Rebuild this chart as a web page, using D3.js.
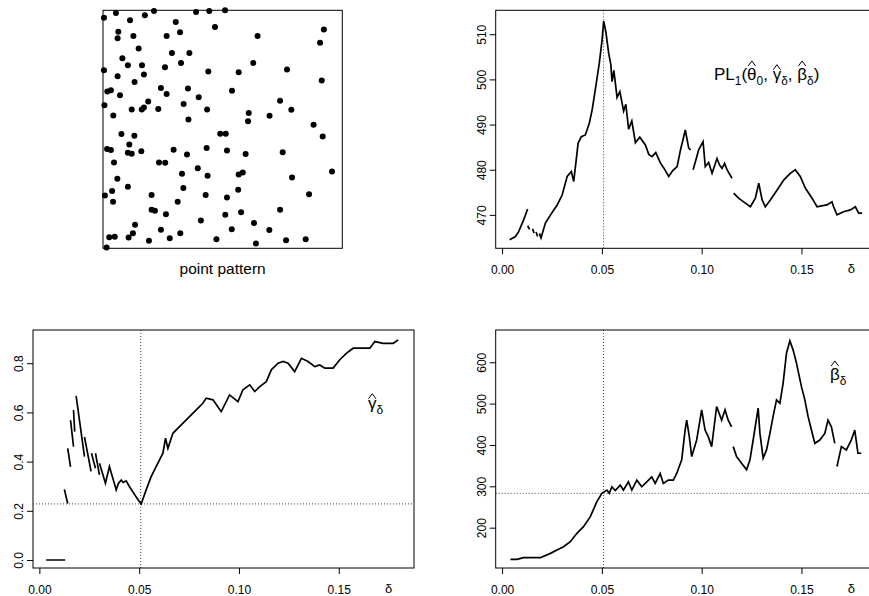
<!DOCTYPE html>
<html>
<head>
<meta charset="utf-8">
<title>profile pseudo-likelihood in delta</title>
<script src="https://cdn.jsdelivr.net/npm/d3@7"></script>
<style>
body { margin: 0; background: #fff; }
text { font-family: "Liberation Sans", Arial, Helvetica, sans-serif; fill: #000; }
</style>
</head>
<body>
<script>
// point pattern, unit square
var ppX = [0.004,0.054,0.175,0.213,0.389,0.444,0.510,0.113,0.304,0.468,0.064,0.061,0.127,0.266,0.322,0.646,0.923,0.907,0.149,0.288,0.361,0.081,0.104,0.163,0.326,0.259,0.628,0.004,0.171,0.061,0.440,0.567,0.769,0.914,0.132,0.018,0.033,0.242,0.355,0.266,0.071,0.539,0.400,0.189,0.740,0.006,0.337,0.120,0.162,0.171,0.231,0.435,0.787,0.043,0.609,0.696,0.357,0.606,0.880,0.077,0.131,0.490,0.513,0.918,0.017,0.033,0.110,0.104,0.120,0.160,0.295,0.351,0.433,0.518,0.596,0.751,0.046,0.234,0.260,0.396,0.330,0.437,0.567,0.584,0.957,0.060,0.790,0.104,0.336,0.565,0.008,0.038,0.042,0.203,0.429,0.518,0.861,0.312,0.203,0.217,0.263,0.511,0.577,0.740,0.409,0.134,0.631,0.125,0.242,0.323,0.538,0.695,0.026,0.049,0.107,0.192,0.279,0.474,0.639,0.765,0.847,0.015];
var ppY = [0.969,0.989,0.979,0.997,0.993,0.997,1.000,0.958,0.951,0.930,0.910,0.883,0.892,0.892,0.908,0.892,0.919,0.864,0.839,0.821,0.821,0.799,0.769,0.769,0.779,0.761,0.779,0.748,0.730,0.723,0.743,0.740,0.751,0.705,0.699,0.659,0.664,0.674,0.671,0.648,0.643,0.662,0.635,0.617,0.620,0.601,0.606,0.583,0.583,0.592,0.585,0.583,0.582,0.558,0.568,0.557,0.541,0.534,0.519,0.480,0.473,0.481,0.481,0.470,0.417,0.413,0.436,0.401,0.397,0.408,0.414,0.394,0.421,0.411,0.396,0.404,0.361,0.361,0.359,0.336,0.313,0.305,0.310,0.319,0.323,0.292,0.297,0.259,0.253,0.246,0.222,0.241,0.196,0.224,0.224,0.213,0.227,0.196,0.162,0.158,0.143,0.141,0.151,0.162,0.117,0.099,0.106,0.063,0.078,0.063,0.080,0.077,0.046,0.049,0.045,0.032,0.042,0.038,0.020,0.034,0.038,0.003];

// [delta, value]; null = gap in the curve
var plCurve = [
  [0.0038,464.5],[0.0067,465.2],[0.0083,466.3],[0.0108,468.9],[0.0128,471.3], null,
  [0.0128,467.6],[0.0138,466.8], null,
  [0.0153,466.9],[0.0160,466.0], null,
  [0.0170,466.2],[0.0178,465.2], null,
  [0.0187,465.9],[0.0195,464.9],[0.0217,468.2],[0.0233,469.3],[0.0259,471.1],[0.0276,472.2],
  [0.0301,474.4],[0.0326,478.5],[0.0347,479.6],[0.0359,477.4],[0.0381,485.9],[0.0397,487.3],
  [0.0417,487.7],[0.0437,490.3],[0.0451,493.2],[0.0467,497.7],[0.0487,503.6],[0.0501,508.7],
  [0.0509,512.9],[0.0520,510.5],[0.0534,505.8],[0.0545,503.2],[0.0551,499.5],[0.0560,502.0],
  [0.0576,496.0],[0.0590,497.3],[0.0609,493.0],[0.0620,494.5],[0.0634,489.0],[0.0650,490.8],
  [0.0668,486.0],[0.0690,487.2],[0.0718,485.5],[0.0735,483.4],[0.0751,482.9],[0.0770,483.8],
  [0.0793,481.5],[0.0810,480.4],[0.0835,478.5],[0.0855,479.8],[0.0877,480.7],[0.0895,484.6],
  [0.0910,487.3],[0.0918,488.8],[0.0935,484.8],[0.0945,484.4], null,
  [0.0957,480.0],[0.0970,482.0],[0.0985,484.4],[0.1007,486.2],[0.1018,480.7],[0.1035,481.6],
  [0.1052,479.2],[0.1077,482.5],[0.1090,481.0],[0.1102,480.3],[0.1115,481.4],[0.1127,480.0],
  [0.1152,478.1], null,
  [0.1160,474.8],[0.1185,473.7],[0.1200,473.2],[0.1219,472.6],[0.1244,471.8],[0.1269,473.7],
  [0.1286,477.0],[0.1303,473.3],[0.1319,471.8],[0.1344,473.3],[0.1378,475.5],[0.1411,477.7],
  [0.1444,479.2],[0.1469,480.0],[0.1494,478.5],[0.1520,475.9],[0.1553,473.7],[0.1578,471.8],
  [0.1600,472.0],[0.1628,472.2],[0.1653,472.9],[0.1661,471.8],[0.1678,470.0],[0.1711,470.7],
  [0.1745,471.1],[0.1770,471.8],[0.1787,470.4],[0.1804,470.4]
];

var gammaCurve = [
  [0.0034,0.000],[0.0129,0.000], null,
  [0.0125,0.287],[0.0142,0.230], null,
  [0.0142,0.454],[0.0156,0.379], null,
  [0.0156,0.569],[0.0171,0.461], null,
  [0.0171,0.610],[0.0177,0.522], null,
  [0.0184,0.667],[0.0226,0.420], null,
  [0.0226,0.500],[0.0259,0.360], null,
  [0.0261,0.434],[0.0281,0.373], null,
  [0.0281,0.434],[0.0301,0.346], null,
  [0.0301,0.393],[0.0331,0.312],[0.0351,0.380],[0.0385,0.285],[0.0395,0.310],[0.0410,0.325],
  [0.0420,0.315],[0.0435,0.322],[0.0450,0.300],[0.0470,0.275],[0.0490,0.250],[0.0510,0.228],
  [0.0535,0.285],[0.0560,0.339],[0.0585,0.380],[0.0619,0.434],[0.0632,0.495],[0.0644,0.454],
  [0.0669,0.515],[0.0702,0.542],[0.0736,0.570],[0.0761,0.590],[0.0786,0.610],[0.0819,0.637],
  [0.0836,0.658],[0.0870,0.651],[0.0911,0.603],[0.0953,0.671],[0.0995,0.644],[0.1020,0.692],
  [0.1054,0.712],[0.1079,0.685],[0.1104,0.705],[0.1137,0.725],[0.1162,0.773],[0.1196,0.800],
  [0.1221,0.807],[0.1246,0.800],[0.1279,0.766],[0.1313,0.820],[0.1346,0.807],[0.1380,0.786],
  [0.1405,0.793],[0.1430,0.780],[0.1472,0.780],[0.1505,0.814],[0.1538,0.840],[0.1572,0.861],
  [0.1605,0.861],[0.1656,0.861],[0.1681,0.888],[0.1722,0.881],[0.1773,0.881],[0.1798,0.895]
];

var betaCurve = [
  [0.0042,123.4],[0.0075,123.4],[0.0108,127.4],[0.0192,127.4],[0.0242,137.9],[0.0275,146.0],
  [0.0308,154.0],[0.0342,166.1],[0.0375,186.3],[0.0408,202.4],[0.0442,226.6],[0.0475,262.9],
  [0.0500,283.1],[0.0525,291],[0.0537,283],[0.0550,299],[0.0567,290],[0.0592,303],[0.0608,291],
  [0.0633,311],[0.0650,291],[0.0675,315],[0.0700,299],[0.0725,311],[0.0750,323],[0.0767,307],
  [0.0792,331],[0.0808,307],[0.0833,315],[0.0858,315],[0.0875,331],[0.0900,364],[0.0917,436],
  [0.0925,460],[0.0938,420],[0.0950,372],[0.0975,412],[0.1000,485],[0.1017,436],[0.1033,420],
  [0.1050,396],[0.1075,493],[0.1100,460],[0.1117,485],[0.1133,460],[0.1150,444], null,
  [0.1158,396],[0.1175,372],[0.1200,356],[0.1225,340],[0.1242,364],[0.1258,412],[0.1283,489],
  [0.1292,428],[0.1308,368],[0.1325,388],[0.1342,428],[0.1358,469],[0.1375,509],[0.1392,501],
  [0.1408,549],[0.1425,622],[0.1442,652],[0.1458,630],[0.1475,598],[0.1500,541],[0.1517,509],
  [0.1533,469],[0.1550,436],[0.1567,404],[0.1592,412],[0.1617,428],[0.1633,460],[0.1650,444],
  [0.1667,404], null,
  [0.1678,348],[0.1700,396],[0.1725,388],[0.1750,412],[0.1767,436],[0.1783,380],[0.1800,380]
];

var xTicks = [0, 0.05, 0.10, 0.15];
var plTicks = [470, 480, 490, 500, 510];
var gammaTicks = [0, 0.2, 0.4, 0.6, 0.8];
var betaTicks = [200, 300, 400, 500, 600];
var deltaHat = 0.0508;   // selected delta (dotted vertical)
var gammaAtHat = 0.228;
var betaAtHat = 283;

var width = 869, height = 596;
var svg = d3.select('body').append('svg').attr('width', width).attr('height', height);
var serif = '"Liberation Serif", "DejaVu Serif", serif';

// ---- point pattern ----
var ppBox = { x0: 103, x1: 342.3, y0: 10.3, y1: 248.3 };
var px = d3.scaleLinear().domain([0, 1]).range([ppBox.x0, ppBox.x1]);
var py = d3.scaleLinear().domain([0, 1]).range([ppBox.y1, ppBox.y0]);
svg.append('rect').attr('x', ppBox.x0).attr('y', ppBox.y0)
  .attr('width', ppBox.x1 - ppBox.x0).attr('height', ppBox.y1 - ppBox.y0)
  .attr('fill', 'none').attr('stroke', '#000').attr('stroke-width', 1);
svg.append('g').selectAll('circle').data(ppX).enter().append('circle')
  .attr('cx', function(d) { return px(d); })
  .attr('cy', function(d, i) { return py(ppY[i]); })
  .attr('r', 3).attr('fill', '#000');
svg.append('text').attr('x', (ppBox.x0 + ppBox.x1) / 2).attr('y', 274)
  .attr('text-anchor', 'middle').attr('font-size', 15.5).text('point pattern');

// ---- generic panel ----
function panel(box, yDomain, yTicks, yFmt, curve, refY) {
  var x = d3.scaleLinear().domain([-0.0032, 0.1877]).range([box.x0, box.x1]);
  var y = d3.scaleLinear().domain(yDomain).range([box.y1, box.y0]);
  var g = svg.append('g');

  var xAxis = d3.axisBottom(x).tickValues(xTicks).tickFormat(d3.format('.2f'))
    .tickSize(6).tickSizeOuter(0).tickPadding(11);
  var gx = g.append('g').attr('transform', 'translate(0,' + box.y1 + ')').call(xAxis);
  gx.select('.domain').remove();
  gx.selectAll('text').attr('font-size', 12).attr('font-family', null);

  var yAxis = d3.axisLeft(y).tickValues(yTicks).tickFormat(yFmt).tickSize(6).tickSizeOuter(0);
  var gy = g.append('g').attr('transform', 'translate(' + box.x0 + ',0)').call(yAxis);
  gy.select('.domain').remove();
  gy.selectAll('text').attr('x', null).attr('dy', null).attr('font-size', 12).attr('font-family', null)
    .attr('text-anchor', 'middle').attr('transform', 'translate(-10,0) rotate(-90)');

  g.append('text').attr('x', x(0.175)).attr('y', box.y1 + 25).attr('text-anchor', 'middle')
    .attr('font-size', 13).attr('font-family', serif).text('\u03b4');

  // dotted reference lines
  g.append('line').attr('x1', x(deltaHat)).attr('x2', x(deltaHat)).attr('y1', box.y0).attr('y2', box.y1)
    .attr('stroke', '#444').attr('stroke-width', 1).attr('stroke-dasharray', '1,2');
  if (refY !== null) {
    g.append('line').attr('x1', box.x0).attr('x2', box.x1).attr('y1', y(refY)).attr('y2', y(refY))
      .attr('stroke', '#444').attr('stroke-width', 1).attr('stroke-dasharray', '1,2');
  }

  var line = d3.line().defined(function(d) { return d !== null; })
    .x(function(d) { return x(d[0]); }).y(function(d) { return y(d[1]); });
  g.append('path').attr('d', line(curve)).attr('fill', 'none')
    .attr('stroke', '#000').attr('stroke-width', 1.7).attr('stroke-linejoin', 'miter');

  g.append('rect').attr('x', box.x0).attr('y', box.y0)
    .attr('width', box.x1 - box.x0).attr('height', box.y1 - box.y0)
    .attr('fill', 'none').attr('stroke', '#000').attr('stroke-width', 1);
  return g;
}

// math-ish label: parts drawn one after another, hats drawn as chevrons
function mathLabel(x0, y0, size, parts) {
  var g = svg.append('g');
  var cx = x0;
  parts.forEach(function(p) {
    var fs = p.sub ? size * 0.7 : size;
    var t = g.append('text').attr('x', cx).attr('y', y0 + (p.sub ? size * 0.28 : 0))
      .attr('font-size', fs).style('white-space', 'pre').text(p.t);
    if (p.greek) t.attr('font-family', serif);
    var w = t.node().getComputedTextLength();
    if (p.hat) {
      var mid = cx + w / 2;
      var top = y0 - size * (p.hat === 'low' ? 0.6 : 0.82);
      g.append('path')
        .attr('d', 'M' + (mid - size * 0.22) + ',' + top + 'L' + mid + ',' + (top - size * 0.3) + 'L' + (mid + size * 0.22) + ',' + top)
        .attr('fill', 'none').attr('stroke', '#000').attr('stroke-width', 1);
    }
    cx += w;
  });
}

var rightX0 = 495.7, rightX1 = 876.7, leftX0 = 33, leftX1 = 414;
var topY0 = 10.3, topY1 = 248.3, botY0 = 330, botY1 = 568;

panel({ x0: rightX0, x1: rightX1, y0: topY0, y1: topY1 }, [462.6, 515.3], plTicks, d3.format('d'), plCurve, null);
panel({ x0: leftX0, x1: leftX1, y0: botY0, y1: botY1 }, [-0.0325, 0.935], gammaTicks, d3.format('.1f'), gammaCurve, gammaAtHat);
panel({ x0: rightX0, x1: rightX1, y0: botY0, y1: botY1 }, [102.5, 678], betaTicks, d3.format('d'), betaCurve, betaAtHat);

mathLabel(714, 80, 17, [
  { t: 'PL' }, { t: '1', sub: true }, { t: '(' },
  { t: '\u03b8', greek: true, hat: 'high' }, { t: '0', sub: true }, { t: ',\u00a0' },
  { t: '\u03b3', greek: true, hat: 'low' }, { t: '\u03b4', greek: true, sub: true }, { t: ',\u00a0' },
  { t: '\u03b2', greek: true, hat: 'high' }, { t: '\u03b4', greek: true, sub: true }, { t: ')' }
]);
mathLabel(368, 409, 17, [
  { t: '\u03b3', greek: true, hat: 'low' }, { t: '\u03b4', greek: true, sub: true }
]);
mathLabel(830, 380, 17, [
  { t: '\u03b2', greek: true, hat: 'high' }, { t: '\u03b4', greek: true, sub: true }
]);
</script>
</body>
</html>
